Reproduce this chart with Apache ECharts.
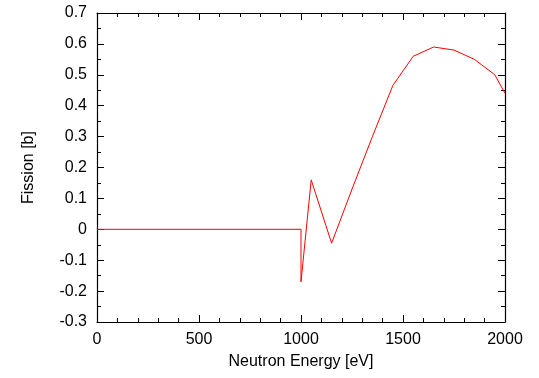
<!DOCTYPE html>
<html>
<head>
<meta charset="utf-8">
<script src="https://cdn.jsdelivr.net/npm/echarts@6/dist/echarts.min.js"></script>
<style>
	html, body { margin: 0; padding: 0; background: #fff; }
	#chart { width: 539px; height: 378px; }
</style>
</head>
<body>
<div id="chart"></div>
<script>
// neutron energy [eV] and fission cross section [b]
const energy = [0, 1000, 1000, 1050, 1150, 1250, 1350, 1450, 1550, 1650, 1750, 1850, 1950, 2000]
const fission = [0, 0, -0.17, 0.16, -0.045, 0.13, 0.30, 0.465, 0.56, 0.59, 0.58, 0.55, 0.50, 0.44]

const font = "Liberation Sans"
const black = "#000"

const points = energy.map((e, i) => [e, fission[i]])

// tick style shared by all four sides of the box
const tick = { show: true, inside: true, length: 7, lineStyle: { color: black, width: 1 } }
const minor = { show: true, length: 4, lineStyle: { color: black, width: 1 } }
const line = { show: true, onZero: false, lineStyle: { color: black, width: 1.2 } }

const xBase = { type: "value", min: 0, max: 2000, interval: 500 }
const yBase = { type: "value", min: -0.3, max: 0.7, interval: 0.1 }

const chart = echarts.init(document.getElementById("chart"))
chart.setOption({
	animation: false,
	backgroundColor: "#fff",
	grid: { left: 97, right: 34, top: 13, bottom: 56 },
	xAxis: [
		{
			...xBase,
			position: "bottom",
			name: "Neutron Energy [eV]",
			nameLocation: "middle",
			nameGap: 32,
			nameTextStyle: { fontFamily: font, fontSize: 16, color: black },
			axisLine: line,
			axisTick: tick,
			minorTick: { ...minor, splitNumber: 5 },
			axisLabel: {
				fontFamily: font,
				fontSize: 16,
				color: black,
				margin: 10,
				formatter: v => String(v)
			},
			splitLine: { show: false }
		},
		{
			...xBase,
			position: "top",
			axisLine: line,
			axisTick: tick,
			minorTick: { ...minor, splitNumber: 5 },
			axisLabel: { show: false },
			splitLine: { show: false }
		}
	],
	yAxis: [
		{
			...yBase,
			position: "left",
			name: "Fission [b]",
			nameLocation: "middle",
			nameGap: 60,
			nameTextStyle: { fontFamily: font, fontSize: 16, color: black },
			axisLine: line,
			axisTick: tick,
			minorTick: { ...minor, splitNumber: 2 },
			axisLabel: {
				fontFamily: font,
				fontSize: 16,
				color: black,
				margin: 10,
				formatter: v => String(+v.toFixed(1))
			},
			splitLine: { show: false }
		},
		{
			...yBase,
			position: "right",
			axisLine: line,
			axisTick: tick,
			minorTick: { ...minor, splitNumber: 2 },
			axisLabel: { show: false },
			splitLine: { show: false }
		}
	],
	series: [
		{
			type: "line",
			data: points,
			showSymbol: false,
			lineStyle: { color: "#ff0000", width: 1 },
			itemStyle: { color: "#ff0000" }
		}
	]
})
</script>
</body>
</html>
